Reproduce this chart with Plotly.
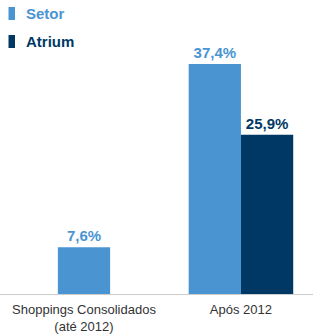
import plotly.graph_objects as go

categories = ["Shoppings Consolidados<br>(até 2012)", "Após 2012"]
setor_values = [7.6, 37.4]
atrium_categories = ["Após 2012"]
atrium_values = [25.9]
setor_labels = ["7,6%", "37,4%"]
atrium_labels = ["25,9%"]
series_names = ["Setor", "Atrium"]

SETOR = "#4a94d2"
ATRIUM = "#003865"
FONT = "Liberation Sans, Arial, sans-serif"
PLOT_H = 294.0
PLOT_W = 313.0

fig = go.Figure()
fig.add_trace(go.Bar(
    x=categories, y=setor_values, name=series_names[0],
    marker=dict(color=SETOR, line=dict(width=0)),
    width=0.333, offset=[-0.1665, -0.333],
    text=setor_labels, textposition="outside", cliponaxis=False,
    textfont=dict(color=SETOR, size=15, family=FONT, weight="bold"),
))
fig.add_trace(go.Bar(
    x=atrium_categories, y=atrium_values, name=series_names[1],
    marker=dict(color=ATRIUM, line=dict(width=0)),
    width=0.333, offset=0,
    text=atrium_labels, textposition="outside", cliponaxis=False,
    textfont=dict(color=ATRIUM, size=15, family=FONT, weight="bold"),
))

# custom legend (coloured text per series)
legend_items = [(series_names[0], SETOR, 7, 20), (series_names[1], ATRIUM, 35, 48)]
for name, col, top, bot in legend_items:
    fig.add_shape(type="rect", xref="paper", yref="paper",
                  x0=8.5 / PLOT_W, x1=15 / PLOT_W,
                  y0=1 - bot / PLOT_H, y1=1 - top / PLOT_H,
                  fillcolor=col, line=dict(width=0))
    fig.add_annotation(xref="paper", yref="paper", x=24 / PLOT_W,
                       y=1 - (top + bot) / 2 / PLOT_H,
                       xanchor="left", yanchor="middle", showarrow=False,
                       text=f"<b>{name}</b>",
                       font=dict(size=15, family=FONT, color=col))

fig.update_layout(
    width=316, height=336,
    margin=dict(l=0, r=3, t=0, b=42, autoexpand=False),
    paper_bgcolor="white", plot_bgcolor="white",
    barmode="overlay",
    showlegend=False,
    hovermode=False,
    xaxis=dict(type="category", categoryorder="array", categoryarray=categories,
               range=[-0.535, 1.459], showline=True, linecolor="#cccccc", linewidth=1,
               ticks="", showgrid=False, automargin=False, ticklabelstandoff=3,
               tickfont=dict(size=13, family=FONT, color="#333333")),
    yaxis=dict(range=[0, 47.8], visible=False, showgrid=False, automargin=False),
)
fig.write_html("out.html", config={"displayModeBar": False, "staticPlot": True},
               post_script="document.body.style.margin='0';document.body.style.overflow='hidden';")
